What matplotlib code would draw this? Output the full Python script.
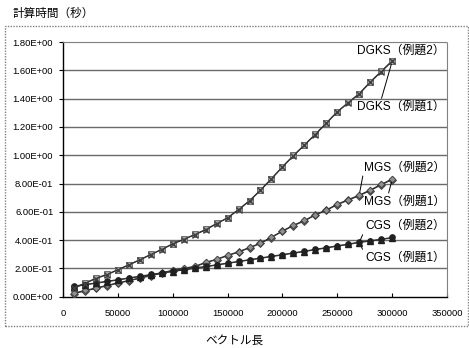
import matplotlib
matplotlib.use('Agg')
import matplotlib.pyplot as plt
from matplotlib.patches import Rectangle

plt.rcParams['font.family'] = ['Liberation Sans', 'Noto Sans CJK JP', 'DejaVu Sans']

# vector length
n = [10000 * i for i in range(1, 31)]

dgks1 = [0.060, 0.093, 0.128, 0.155, 0.189, 0.224, 0.259, 0.297, 0.333, 0.372, 0.404, 0.437, 0.472, 0.515, 0.556, 0.614, 0.676, 0.751, 0.832, 0.916, 0.995, 1.070, 1.146, 1.225, 1.305, 1.370, 1.432, 1.514, 1.589, 1.663]
dgks2 = [0.063, 0.096, 0.131, 0.158, 0.191, 0.226, 0.262, 0.299, 0.335, 0.375, 0.406, 0.440, 0.475, 0.518, 0.558, 0.617, 0.679, 0.754, 0.835, 0.919, 0.998, 1.073, 1.149, 1.228, 1.308, 1.373, 1.436, 1.518, 1.593, 1.668]
mgs1 = [0.022, 0.040, 0.058, 0.077, 0.095, 0.112, 0.130, 0.148, 0.166, 0.184, 0.199, 0.210, 0.240, 0.262, 0.290, 0.315, 0.345, 0.376, 0.418, 0.462, 0.502, 0.535, 0.577, 0.610, 0.650, 0.682, 0.714, 0.750, 0.790, 0.828]
mgs2 = [0.026, 0.044, 0.062, 0.080, 0.098, 0.115, 0.133, 0.151, 0.169, 0.187, 0.202, 0.214, 0.243, 0.265, 0.293, 0.318, 0.348, 0.379, 0.421, 0.465, 0.505, 0.539, 0.580, 0.613, 0.654, 0.686, 0.718, 0.754, 0.794, 0.832]
cgs1 = [0.075, 0.086, 0.098, 0.109, 0.121, 0.133, 0.145, 0.157, 0.169, 0.181, 0.192, 0.203, 0.214, 0.226, 0.238, 0.250, 0.262, 0.274, 0.286, 0.298, 0.310, 0.322, 0.335, 0.347, 0.360, 0.372, 0.386, 0.396, 0.406, 0.419]
cgs2 = [0.072, 0.083, 0.095, 0.106, 0.118, 0.130, 0.142, 0.154, 0.166, 0.178, 0.189, 0.200, 0.211, 0.223, 0.235, 0.247, 0.259, 0.271, 0.283, 0.295, 0.307, 0.319, 0.332, 0.344, 0.357, 0.369, 0.383, 0.393, 0.404, 0.416]

xticks = [0, 50000, 100000, 150000, 200000, 250000, 300000, 350000]
yticks = [0.0, 0.2, 0.4, 0.6, 0.8, 1.0, 1.2, 1.4, 1.6, 1.8]

fig = plt.figure(figsize=(4.69, 3.48), dpi=100)
ax = fig.add_axes([63 / 469, 1 - 296.7 / 348, 384 / 469, 254.7 / 348])

# outer chart frame
fig.patches.append(Rectangle((5 / 469, 1 - 326 / 348), 463 / 469, 300 / 348,
                             transform=fig.transFigure, fill=False,
                             edgecolor='#808080', lw=1.0, ls=(0, (1, 1))))

for v in yticks[1:-1]:
    ax.axhline(v, color='#6a6a6a', lw=1.0, zorder=1)
ax.axhline(1.8, color='#808080', lw=0.8, ls=(0, (1, 1)), zorder=1)

lc = '#303030'
ax.plot(n, mgs1, color=lc, lw=0.8, marker='D', ms=3.8, mfc='#606060', mec='#404040', mew=0.6, zorder=3)
ax.plot(n, mgs2, color=lc, lw=0.8, marker='D', ms=3.4, mfc='#909090', mec='#404040', mew=0.6, zorder=3)
ax.plot(n, cgs2, color=lc, lw=0.8, marker='^', ms=3.8, mfc='#202020', mec='#202020', zorder=4)
ax.plot(n, cgs1, color=lc, lw=0.8, marker='o', ms=3.8, mfc='#202020', mec='#202020', zorder=4)
ax.plot(n, dgks2, color=lc, lw=0.8, marker='s', ms=3.8, mfc='#a8a8a8', mec='#606060', mew=0.6, zorder=3)
ax.plot(n, dgks1, color=lc, lw=0.8, marker='x', ms=5, mec='#404040', mew=1.0, zorder=4)

ax.set_xlim(0, 350000)
ax.set_ylim(0, 1.8)
ax.set_xticks(xticks)
ax.set_xticklabels([str(t) for t in xticks])
ax.set_yticks(yticks)
ax.set_yticklabels(['%.2fE%s' % ((v * 10, '-01') if 0 < v < 1 else (v, '+00')) for v in yticks])
ax.tick_params(axis='x', direction='in', length=3, labelsize=6.8, pad=9)
ax.tick_params(axis='y', direction='out', length=3, labelsize=6.8, pad=4)

for s in ['top', 'right']:
    ax.spines[s].set_color('#808080')
    ax.spines[s].set_linestyle((0, (1, 1)))
    ax.spines[s].set_linewidth(0.8)
for s in ['left', 'bottom']:
    ax.spines[s].set_color('black')
    ax.spines[s].set_linewidth(1.0)

jp = ['Liberation Sans', 'Noto Sans CJK JP']
fs = 8.6
tx = 348000
ap = dict(arrowstyle='-', color='black', lw=0.7, shrinkA=0, shrinkB=2)
ax.annotate('DGKS（例題2）', xy=(n[-1], dgks2[-1]), xytext=(tx, 1.735), ha='right', va='center',
            fontsize=fs, family=jp, arrowprops=dict(ap, relpos=(0.39, 0.0)))
ax.annotate('DGKS（例題1）', xy=(n[-1], dgks1[-1]), xytext=(tx, 1.34), ha='right', va='center',
            fontsize=fs, family=jp, arrowprops=dict(ap, relpos=(0.27, 1.0)))
ax.annotate('MGS（例題2）', xy=(n[26], mgs2[26]), xytext=(tx, 0.915), ha='right', va='center',
            fontsize=fs, family=jp, arrowprops=dict(ap, relpos=(0.0, 0.1)))
ax.annotate('MGS（例題1）', xy=(n[-1], mgs1[-1]), xytext=(tx, 0.671), ha='right', va='center',
            fontsize=fs, family=jp, arrowprops=dict(ap, relpos=(0.3, 1.0)))
ax.annotate('CGS（例題2）', xy=(n[26], cgs2[26]), xytext=(tx, 0.50), ha='right', va='center',
            fontsize=fs, family=jp, arrowprops=dict(ap, relpos=(0.0, 0.2)))
ax.annotate('CGS（例題1）', xy=(n[26], cgs1[26]), xytext=(tx, 0.273), ha='right', va='center',
            fontsize=fs, family=jp, arrowprops=dict(ap, relpos=(0.0, 0.8)))

fig.text(13 / 469, 1 - 14 / 348, '計算時間（秒）', fontsize=8.4, family=jp, va='center', ha='left')
fig.text(234 / 469, 1 - 341 / 348, 'ベクトル長', fontsize=8.4, family=jp, va='center', ha='center')

fig.savefig('out.png', dpi=100)
